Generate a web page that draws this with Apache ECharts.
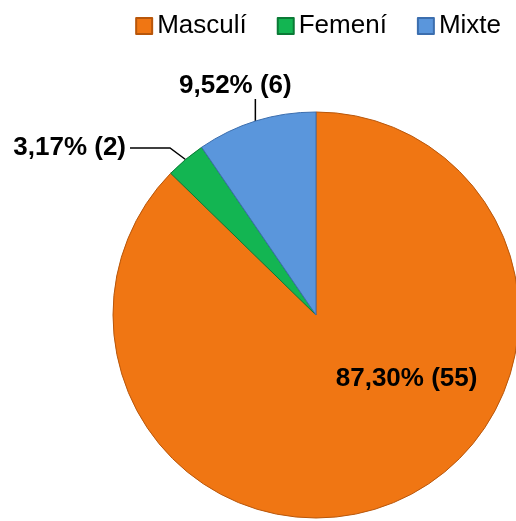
<!DOCTYPE html>
<html>
<head>
<meta charset="utf-8">
<script src="https://cdn.jsdelivr.net/npm/echarts@6/dist/echarts.min.js"></script>
<style>
  html, body { margin: 0; padding: 0; background: #fff; }
  #chart { width: 516px; height: 521px; }
</style>
</head>
<body>
<div id="chart"></div>
<script>
// categories and values
var categories = ["Masculí", "Femení", "Mixte"];
var counts = [55, 2, 6];
var percents = ["87,30", "3,17", "9,52"];
var colors = ["#F07613", "#13B552", "#5A96DC"];
var borders = ["#B8560A", "#0B7A36", "#3C6EAE"];

var chart = echarts.init(document.getElementById("chart"));

var pieData = categories.map(function (name, i) {
  return {
    name: name,
    value: counts[i],
    itemStyle: { color: colors[i], borderColor: borders[i] }
  };
});
// label of the big slice sits inside
pieData[0].label = { position: "inside", offset: [50, -32] };
pieData[0].labelLine = { show: false };
// padding moves the point where the leader line meets the label
pieData[1].label = { padding: [0, 4, 12, 0], backgroundColor: "rgba(255,255,255,0)" };
pieData[2].label = { padding: [0, 40, 0, 0], backgroundColor: "rgba(255,255,255,0)" };

chart.setOption({
  animation: false,
  color: colors,
  legend: {
    data: categories,
    top: 8,
    right: 10,
    itemWidth: 16,
    itemHeight: 16,
    itemGap: 30,
    icon: "rect",
    textStyle: {
      fontFamily: "Liberation Sans",
      fontSize: 26,
      color: "#000"
    }
  },
  series: [
    {
      type: "pie",
      center: [316, 315],
      radius: 203,
      startAngle: 90,
      clockwise: true,
      data: pieData,
      itemStyle: { borderWidth: 1 },
      label: {
        show: true,
        position: "outside",
        color: "#000",
        fontFamily: "Liberation Sans",
        fontWeight: "bold",
        fontSize: 26,
        formatter: function (p) {
          return percents[p.dataIndex] + "% (" + counts[p.dataIndex] + ")";
        }
      },
      labelLine: {
        show: true,
        length: 6,
        length2: 40,
        lineStyle: { color: "#000", width: 1.5 }
      },
      labelLayout: function (p) {
        if (p.dataIndex === 1) {
          return { x: 130, y: 148, align: "right", verticalAlign: "middle" };
        }
        if (p.dataIndex === 2) {
          return { x: 179, y: 86, align: "left", verticalAlign: "middle" };
        }
        return {};
      }
    }
  ]
});
</script>
</body>
</html>
